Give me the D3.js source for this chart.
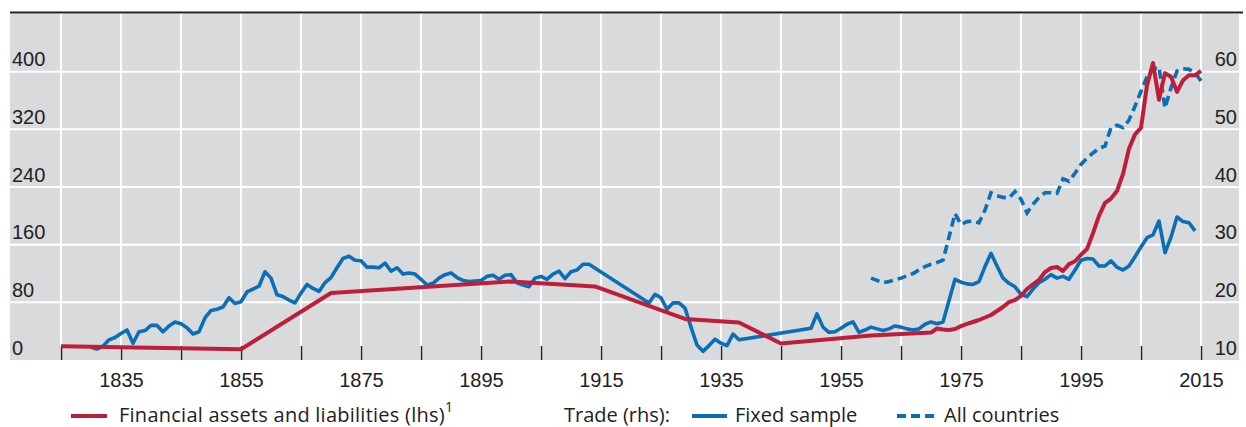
<!DOCTYPE html>
<html>
<head>
<meta charset="utf-8">
<script src="https://cdn.jsdelivr.net/npm/d3@7"></script>
<style>
  html, body { margin: 0; padding: 0; background: #ffffff; }
  svg { display: block; font-family: "Open Sans", "Noto Sans", sans-serif; }
</style>
</head>
<body>
<svg id="chart" width="1246" height="427"></svg>
<script>
// ---------------- DATA ----------------
const finYears = [1825, 1855, 1870, 1900, 1914, 1929, 1938, 1945, 1960,
  1970, 1971, 1972, 1973, 1974, 1975, 1976, 1977, 1978, 1979,
  1980, 1981, 1982, 1983, 1984, 1985, 1986, 1987, 1988, 1989,
  1990, 1991, 1992, 1993, 1994, 1995, 1996, 1997, 1998, 1999,
  2000, 2001, 2002, 2003, 2004, 2005, 2006, 2007, 2008, 2009,
  2010, 2011, 2012, 2013, 2014, 2015];
const finValues = [19, 15, 93, 109, 102, 57, 52, 23, 34,
  38, 43.7, 42.3, 41.6, 43, 47, 50, 52.7, 55.5, 59,
  62.4, 68, 73.5, 80.5, 83, 89, 98.5, 105, 111, 122,
  127.6, 129, 123.5, 133, 137, 146, 154, 176, 200, 218,
  224, 234.5, 258, 293, 313, 322, 381, 412, 361, 398,
  393, 372, 388, 395, 395, 401];

// Trade, fixed sample (rhs, % of GDP); gaps are bridged by straight segments
const fixedYears = [
  1830, 1831, 1832, 1833, 1834, 1835, 1836, 1837, 1838, 1839,
  1840, 1841, 1842, 1843, 1844, 1845, 1846, 1847, 1848, 1849,
  1850, 1851, 1852, 1853, 1854, 1855, 1856, 1857, 1858, 1859,
  1860, 1861, 1862, 1863, 1864, 1865, 1866, 1867, 1868, 1869,
  1870, 1871, 1872, 1873, 1874, 1875, 1876, 1877, 1878, 1879,
  1880, 1881, 1882, 1883, 1884, 1885, 1886, 1887, 1888, 1889,
  1890, 1891, 1892, 1893, 1894, 1895, 1896, 1897, 1898, 1899,
  1900, 1901, 1902, 1903, 1904, 1905, 1906, 1907, 1908, 1909,
  1910, 1911, 1912, 1913,
  1923, 1924, 1925, 1926, 1927, 1928, 1929,
  1930, 1931, 1932, 1933, 1934, 1935, 1936, 1937, 1938,
  1950, 1951, 1952, 1953, 1954, 1955, 1956, 1957, 1958, 1959,
  1960, 1961, 1962, 1963, 1964, 1965, 1966, 1967, 1968, 1969,
  1970, 1971, 1972, 1973, 1974, 1975, 1976, 1977, 1978, 1979,
  1980, 1981, 1982, 1983, 1984, 1985, 1986, 1987, 1988, 1989,
  1990, 1991, 1992, 1993, 1994, 1995, 1996, 1997, 1998, 1999,
  2000, 2001, 2002, 2003, 2004, 2005, 2006, 2007, 2008, 2009,
  2010, 2011, 2012, 2013, 2014];
const fixedValues = [
  12.2, 11.9, 12.4, 13.5, 13.9, 14.6, 15.2, 12.9, 14.9, 15.1,
  16.0, 16.0, 14.9, 15.9, 16.6, 16.3, 15.6, 14.5, 14.9, 17.3,
  18.6, 18.8, 19.2, 20.8, 19.8, 20.1, 21.8, 22.3, 22.8, 25.3,
  24.2, 21.3, 21.0, 20.4, 19.9, 21.6, 23.1, 22.4, 21.9, 23.4,
  24.3, 26.0, 27.6, 28.0, 27.3, 27.2, 26.1, 26.1, 26.0, 26.8,
  25.4, 26.0, 24.9, 25.1, 24.9, 24.0, 23.0, 23.3, 24.2, 24.8,
  25.1, 24.3, 23.8, 23.6, 23.7, 23.8, 24.5, 24.7, 24.0, 24.7,
  24.8, 23.4, 23.0, 22.7, 24.2, 24.5, 24.0, 24.9, 25.4, 24.1,
  25.3, 25.6, 26.6, 26.6,
  19.9, 21.4, 20.8, 18.8, 19.9, 19.9, 19.0,
  15.7, 12.6, 11.5, 12.5, 13.6, 12.9, 12.5, 14.5, 13.5,
  15.5, 18.0, 15.7, 14.8, 14.9, 15.5, 16.2, 16.6, 14.8, 15.2,
  15.7, 15.4, 15.1, 15.4, 15.9, 15.7, 15.4, 15.2, 15.4, 16.2,
  16.6, 16.3, 16.6, 20.3, 24.0, 23.5, 23.2, 23.1, 23.6, 26.2,
  28.5, 26.3, 24.2, 23.3, 22.7, 21.4, 21.0, 22.3, 23.4, 24.0,
  24.8, 24.2, 24.5, 24.0, 25.6, 27.3, 27.6, 27.5, 26.3, 26.3,
  27.2, 26.1, 25.6, 26.3, 27.9, 29.6, 31.2, 31.7, 34.1, 28.6,
  31.3, 34.8, 34.0, 33.8, 32.4];

// Trade, all countries (rhs)
const allYears = [
  1960, 1961, 1962, 1963, 1964, 1965, 1966, 1967, 1968, 1969,
  1970, 1971, 1972, 1973, 1974, 1975, 1976, 1977, 1978, 1979,
  1980, 1981, 1982, 1983, 1984, 1985, 1986, 1987, 1988, 1989,
  1990, 1991, 1992, 1993, 1994, 1995, 1996, 1997, 1998, 1999,
  2000, 2001, 2002, 2003, 2004, 2005, 2006, 2007, 2008, 2009,
  2010, 2011, 2012, 2013, 2014, 2015];
const allValues = [
  24.2, 23.8, 23.4, 23.6, 23.9, 24.2, 24.6, 25.0, 25.6, 26.2,
  26.6, 26.9, 27.3, 31.3, 35.4, 33.5, 34.0, 34.1, 33.8, 36.0,
  39.0, 38.5, 38.2, 38.1, 39.2, 37.9, 35.5, 37.0, 38.2, 39.0,
  39.0, 38.9, 41.4, 41.0, 42.4, 43.9, 45.0, 45.9, 46.7, 47.1,
  50.3, 50.7, 50.3, 51.6, 54.0, 56.6, 59.1, 60.5, 60.8, 53.7,
  57.2, 60.1, 60.5, 60.4, 59.8, 58.4];

const leftTicks = [0, 80, 160, 240, 320, 400];
const rightTicks = [10, 20, 30, 40, 50, 60];
const yearTicks = d3.range(1825, 2016, 10);
const yearLabels = [1835, 1855, 1875, 1895, 1915, 1935, 1955, 1975, 1995, 2015];

// ---------------- LAYOUT ----------------
const plot = { left: 10, right: 1239, top: 14, bottom: 360 };
const RED = "#BE1E3A", BLUE = "#0B6FB8", BG = "#D9DADC", TXT = "#222222";
const FS = 20;

const svg = d3.select("#chart");

const x = d3.scaleLinear()
  .domain([1825 - (61 - plot.left) / 6, 1825 + (plot.right - 61) / 6])
  .range([plot.left, plot.right]);
const yL = d3.scaleLinear().domain([0, 480]).range([plot.bottom, plot.top]);
const yR = d3.scaleLinear().domain([10, 70]).range([plot.bottom, plot.top]);

// background
svg.append("rect")
  .attr("x", plot.left).attr("y", plot.top)
  .attr("width", plot.right - plot.left).attr("height", plot.bottom - plot.top)
  .attr("fill", BG);

// grid
const grid = svg.append("g");
grid.selectAll("line.h").data(leftTicks.filter(d => d > 0)).join("line")
  .attr("x1", plot.left).attr("x2", plot.right)
  .attr("y1", d => yL(d)).attr("y2", d => yL(d))
  .attr("stroke", "#ffffff").attr("stroke-width", 2);
grid.selectAll("line.v").data(yearTicks).join("line")
  .attr("x1", d => x(d)).attr("x2", d => x(d))
  .attr("y1", plot.top).attr("y2", plot.bottom)
  .attr("stroke", "#ffffff").attr("stroke-width", 2);

// top rule
svg.append("line")
  .attr("x1", plot.left).attr("x2", 1243)
  .attr("y1", 12.5).attr("y2", 12.5)
  .attr("stroke", TXT).attr("stroke-width", 2);

// x axis (ticks point up into the plot)
const xAxis = d3.axisBottom(x)
  .tickValues(yearTicks)
  .tickSizeInner(-14).tickSizeOuter(0)
  .tickPadding(13)
  .tickFormat(d => yearLabels.includes(d) ? String(d) : "");
const gx = svg.append("g").attr("transform", `translate(0,${plot.bottom})`).call(xAxis);
gx.select(".domain").remove();
gx.selectAll(".tick line").attr("stroke", TXT).attr("stroke-width", 1.5);
gx.selectAll(".tick text").attr("fill", TXT).attr("font-size", FS).attr("font-family", null);

// left axis labels
const gl = svg.append("g").attr("transform", `translate(${plot.left},0)`)
  .call(d3.axisRight(yL).tickValues(leftTicks).tickSize(0).tickPadding(2));
gl.select(".domain").remove();
gl.selectAll(".tick text").attr("fill", TXT).attr("font-size", FS)
  .attr("font-family", null).attr("dy", -6);

// right axis labels
const gr = svg.append("g").attr("transform", `translate(1237,0)`)
  .call(d3.axisLeft(yR).tickValues(rightTicks).tickSize(0).tickPadding(0));
gr.select(".domain").remove();
gr.selectAll(".tick text").attr("fill", TXT).attr("font-size", FS)
  .attr("font-family", null).attr("dy", -6);

// lines
const lineL = d3.line().x(d => x(d[0])).y(d => yL(d[1]));
const lineR = d3.line().x(d => x(d[0])).y(d => yR(d[1]));

svg.append("path")
  .datum(fixedYears.map((yr, i) => [yr, fixedValues[i]]))
  .attr("d", lineR).attr("fill", "none")
  .attr("stroke", BLUE).attr("stroke-width", 3.6)
  .attr("stroke-linejoin", "round");

svg.append("path")
  .datum(allYears.map((yr, i) => [yr, allValues[i]]))
  .attr("d", lineR).attr("fill", "none")
  .attr("stroke", BLUE).attr("stroke-width", 3.6)
  .attr("stroke-dasharray", "9,5");

svg.append("path")
  .datum(finYears.map((yr, i) => [yr, finValues[i]]))
  .attr("d", lineL).attr("fill", "none")
  .attr("stroke", RED).attr("stroke-width", 4)
  .attr("stroke-linejoin", "round");

// legend
const lg = svg.append("g").attr("font-size", FS).attr("fill", TXT);
const ly = 416, lty = 422;
lg.append("line").attr("x1", 71).attr("x2", 107).attr("y1", ly).attr("y2", ly)
  .attr("stroke", RED).attr("stroke-width", 4);
const t1 = lg.append("text").attr("x", 119).attr("y", lty);
t1.append("tspan").attr("letter-spacing", 0.25).text("Financial assets and liabilities (lhs)");
t1.append("tspan").attr("font-size", 14).attr("dy", -10).text("1");

lg.append("text").attr("x", 564).attr("y", lty).text("Trade (rhs):");
lg.append("line").attr("x1", 692).attr("x2", 727).attr("y1", ly).attr("y2", ly)
  .attr("stroke", BLUE).attr("stroke-width", 4);
lg.append("text").attr("x", 735).attr("y", lty).text("Fixed sample");
lg.append("line").attr("x1", 897).attr("x2", 934).attr("y1", ly).attr("y2", ly)
  .attr("stroke", BLUE).attr("stroke-width", 4).attr("stroke-dasharray", "9,5");
lg.append("text").attr("x", 944).attr("y", lty).text("All countries");
</script>
</body>
</html>
